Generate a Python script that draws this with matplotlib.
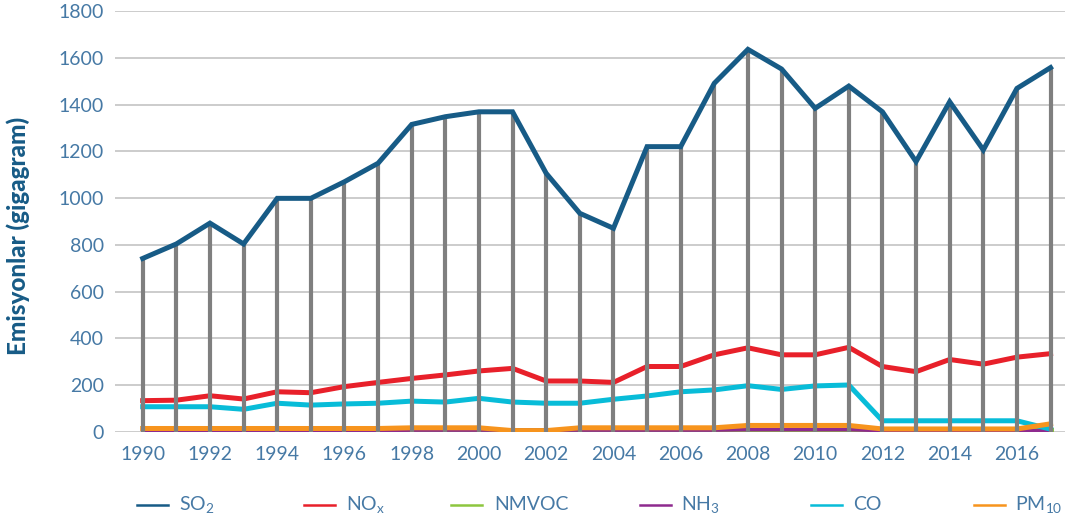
import matplotlib
matplotlib.use("Agg")
import matplotlib.pyplot as plt
from matplotlib.lines import Line2D

years = list(range(1990, 2018))
so2 = [742, 804, 893, 804, 999, 999, 1070, 1149, 1315, 1348, 1369, 1369, 1106, 935,
       871, 1220, 1220, 1491, 1636, 1552, 1384, 1479, 1369, 1156, 1412, 1206, 1469, 1558]
nox = [134, 136, 155, 141, 172, 168, 194, 212, 229, 244, 261, 272, 218, 218,
       212, 280, 280, 330, 360, 330, 330, 362, 280, 258, 310, 290, 320, 335]
nmvoc = [10, 10, 10, 10, 10, 10, 10, 10, 10, 10, 10, 10, 10, 10,
         10, 10, 10, 10, 10, 10, 10, 10, 10, 10, 10, 10, 10, 10]
nh3 = [6, 6, 6, 6, 6, 6, 6, 6, 8, 8, 8, 8, 8, 8,
       8, 8, 8, 8, 10, 10, 10, 10, 6, 6, 6, 6, 6, 6]
co = [108, 108, 108, 97, 123, 115, 120, 123, 132, 128, 144, 128, 123, 123,
      140, 154, 172, 180, 198, 182, 197, 201, 48, 48, 48, 48, 48, 12]
pm10 = [15, 15, 15, 15, 15, 15, 15, 15, 18, 18, 18, 6, 6, 18,
        18, 18, 18, 18, 28, 28, 28, 28, 13, 13, 13, 13, 13, 35]

legend_labels = ["SO$_\\mathregular{2}$", "NO$_\\mathregular{x}$", "NMVOC",
                 "NH$_\\mathregular{3}$", "CO", "PM$_\\mathregular{10}$"]
yticks = [0, 200, 400, 600, 800, 1000, 1200, 1400, 1600, 1800]
xticks = list(range(1990, 2017, 2))

c_so2 = "#175b86"
c_nox = "#e8202a"
c_nmvoc = "#8dc63f"
c_nh3 = "#8e2a8e"
c_co = "#08bcd8"
c_pm = "#f7941d"
c_text = "#4679a5"
c_drop = "#7f7f7f"

plt.rcParams["font.family"] = ["Lato", "DejaVu Sans"]

fig = plt.figure(figsize=(10.65, 5.28), dpi=100)
ax = fig.add_axes([115 / 1065, (528 - 432) / 528, 950 / 1065, (432 - 11) / 528])

lw = 3.6
ax.plot(years, nox, color=c_nox, lw=lw, zorder=3, solid_joinstyle="round")
ax.plot(years, nmvoc, color=c_nmvoc, lw=lw, zorder=3)
ax.plot(years, nh3, color=c_nh3, lw=2.5, zorder=3)
ax.plot(years, co, color=c_co, lw=lw, zorder=3, solid_joinstyle="round")
ax.plot(years, pm10, color=c_pm, lw=lw, zorder=3)
ax.vlines(years, 0, so2, color=c_drop, lw=3.0, zorder=4)
ax.plot(years, so2, color=c_so2, lw=lw, zorder=5, solid_joinstyle="miter")

ax.set_xlim(1990 - 0.824, 2017.43)
ax.set_ylim(0, 1800)
ax.set_yticks(yticks)
ax.set_xticks(xticks)
ax.grid(axis="y", color="#c8c8c8", lw=1.3, zorder=0)
ax.set_axisbelow(True)
for s in ax.spines.values():
    s.set_visible(False)
ax.tick_params(axis="both", length=0, labelsize=14, labelcolor=c_text)
ax.tick_params(axis="y", pad=8)
ax.tick_params(axis="x", pad=10)
ax.set_ylabel("Emisyonlar (gigagram)", fontsize=17.5, fontweight="black", color=c_so2,
              va="center", ha="center")
ax.yaxis.set_label_coords(-0.102, 0.466)

# legend
colors = [c_so2, c_nox, c_nmvoc, c_nh3, c_co, c_pm]
line_x = [137, 304, 451, 640, 811, 974]
text_x = [179, 346, 494, 681, 853, 1015]
ly = 505
for col, lx, tx, lab in zip(colors, line_x, text_x, legend_labels):
    fig.add_artist(Line2D([lx / 1065, (lx + 31) / 1065], [1 - ly / 528, 1 - ly / 528],
                          color=col, lw=1.8, transform=fig.transFigure))
    fig.text(tx / 1065, 1 - ly / 528, lab, color=c_text, fontsize=14,
             va="center", ha="left")

fig.savefig("out.png", dpi=100)
